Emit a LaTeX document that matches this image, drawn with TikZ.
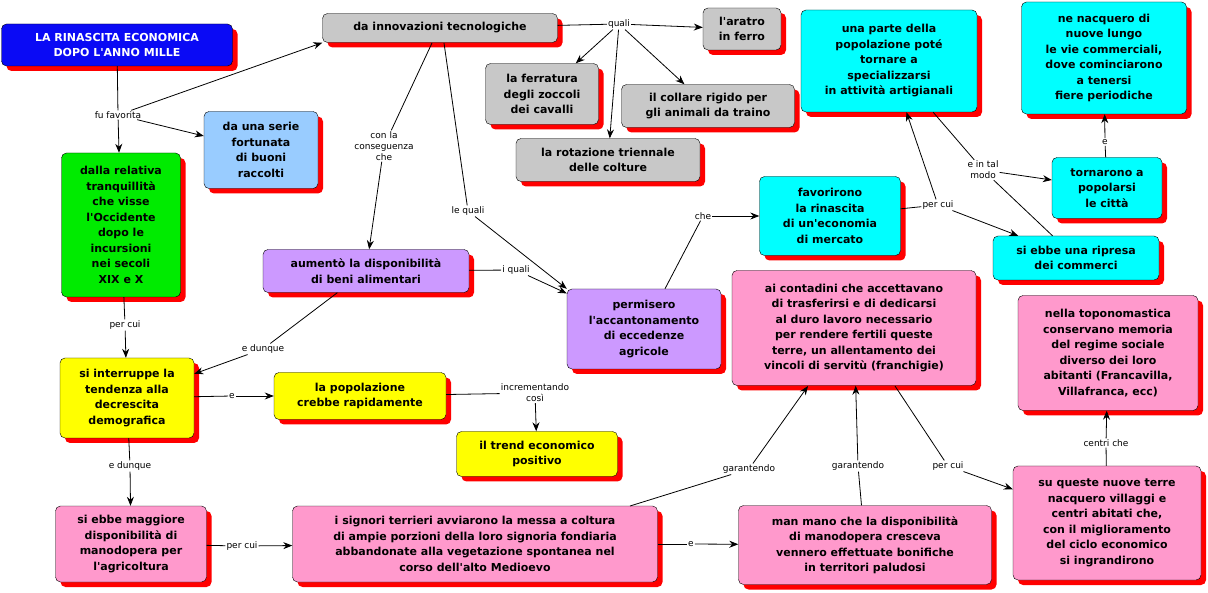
\documentclass[tikz,border=0pt]{standalone}
\usepackage{fontspec}
\setmainfont{DejaVu Sans}
\usetikzlibrary{shadows,arrows.meta}
\newcommand\qq{\textquotesingle}
\definecolor{cgray}{RGB}{200,200,200}
\definecolor{cgreen}{RGB}{0,235,0}
\definecolor{ccyan}{RGB}{0,255,255}
\definecolor{cyel}{RGB}{255,255,0}
\definecolor{cpink}{RGB}{255,153,204}
\definecolor{cpur}{RGB}{204,153,255}
\definecolor{clb}{RGB}{153,204,255}
\definecolor{cblue}{RGB}{10,10,245}
\tikzset{
 c/.style={draw=black,rounded corners=5pt,align=center,inner sep=2pt,
   font=\fontsize{11}{15.5}\selectfont\bfseries,
   drop shadow={shadow xshift=5pt,shadow yshift=-5pt,fill=red,opacity=1}},
 L/.style={fill=white,inner sep=1pt,align=center,font=\fontsize{9}{11}\selectfont},
 a/.style={-{Stealth[length=9pt,width=7pt]},line width=0.8pt},
 l/.style={line width=0.8pt},
}
\begin{document}
\begin{tikzpicture}[x=1pt,y=-1pt]
\useasboundingbox[fill=white] (0,0) rectangle (1208,593);
\node[c,fill=cblue,text=white,minimum width=231,minimum height=42] (t) at (117,45) {LA RINASCITA ECONOMICA\\DOPO L\qq ANNO MILLE};
\node[c,fill=cgray,minimum width=235,minimum height=29] (inn) at (440,28) {da innovazioni tecnologiche};
\node[c,fill=cgray,minimum width=78,minimum height=42] (ar) at (742,29) {l\qq aratro\\in ferro};
\node[c,fill=cgray,minimum width=113,minimum height=61] (fe) at (542,94) {la ferratura\\degli zoccoli\\dei cavalli};
\node[c,fill=cgray,minimum width=173,minimum height=43] (co) at (708,106) {il collare rigido per\\gli animali da traino};
\node[c,fill=cgray,minimum width=184,minimum height=43] (ro) at (608,160) {la rotazione triennale\\delle colture};
\node[c,fill=ccyan,minimum width=176,minimum height=102] (pa) at (889,61) {una parte della\\popolazione poté\\tornare a\\specializzarsi\\in attività artigianali};
\node[c,fill=ccyan,minimum width=165,minimum height=112] (ne) at (1104,58) {ne nacquero di\\nuove lungo\\le vie commerciali,\\dove cominciarono\\a tenersi\\fiere periodiche};
\node[c,fill=ccyan,minimum width=110,minimum height=61] (to) at (1107,188) {tornarono a\\popolarsi\\le città};
\node[c,fill=clb,minimum width=114,minimum height=77] (se) at (261,150) {da una serie\\fortunata\\di buoni\\raccolti};
\node[c,fill=cgreen,minimum width=119,minimum height=144] (dr) at (121,225) {dalla relativa\\tranquillità\\che visse\\l\qq Occidente\\dopo le\\incursioni\\nei secoli\\XIX e X};
\node[c,fill=ccyan,minimum width=141,minimum height=79] (fa) at (830,216) {favorirono\\la rinascita\\di un\qq economia\\di mercato};
\node[c,fill=ccyan,minimum width=166,minimum height=44] (ri) at (1076,258) {si ebbe una ripresa\\dei commerci};
\node[c,fill=cpur,minimum width=206,minimum height=43] (au) at (366,271) {aumentò la disponibilità\\di beni alimentari};
\node[c,fill=cpur,minimum width=154,minimum height=80] (pe) at (644,329) {permisero\\l\qq accantonamento\\di eccedenze\\agricole};
\node[c,fill=cpink,minimum width=244,minimum height=115] (ai) at (854,328) {ai contadini che accettavano\\di trasferirsi e di dedicarsi\\al duro lavoro necessario\\per rendere fertili queste\\terre, un allentamento dei\\vincoli di servitù (franchigie)};
\node[c,fill=cpink,minimum width=180,minimum height=115] (nt) at (1108,353) {nella toponomastica\\conservano memoria\\del regime sociale\\diverso dei loro\\abitanti (Francavilla,\\Villafranca, ecc)};
\node[c,fill=cyel,minimum width=134,minimum height=80] (si) at (127,398) {si interruppe la\\tendenza alla\\decrescita\\demografica};
\node[c,fill=cyel,minimum width=172,minimum height=47] (po) at (360,396) {la popolazione\\crebbe rapidamente};
\node[c,fill=cyel,minimum width=161,minimum height=45] (tr) at (537,454) {il trend economico\\positivo};
\node[c,fill=cpink,minimum width=151,minimum height=76] (ma) at (131,544) {si ebbe maggiore\\disponibilità di\\manodopera per\\l\qq agricoltura};
\node[c,fill=cpink,minimum width=365,minimum height=76] (sg) at (475,544) {i signori terrieri avviarono la messa a coltura\\di ampie porzioni della loro signoria fondiaria\\abbandonate alla vegetazione spontanea nel\\corso dell\qq alto Medioevo};
\node[c,fill=cpink,minimum width=253,minimum height=79] (mm) at (865,545) {man mano che la disponibilità\\di manodopera cresceva\\vennero effettuate bonifiche\\in territori paludosi};
\node[c,fill=cpink,minimum width=188,minimum height=114] (sq) at (1107,523) {su queste nuove terre\\nacquero villaggi e\\centri abitati che,\\con il miglioramento\\del ciclo economico\\si ingrandirono};
% labels
\node[L] (lq) at (619,24) {quali};
\node[L] (lf) at (118,115) {fu favorita};
\node[L] (lc) at (384,146) {con la\\conseguenza\\che};
\node[L] (llq) at (468,211) {le quali};
\node[L] (liq) at (516,270) {i quali};
\node[L] (lche) at (703,216) {che};
\node[L] (lpc1) at (938,205) {per cui};
\node[L] (ltm) at (983,170) {e in tal\\modo};
\node[L] (le1) at (1105,142) {e};
\node[L] (lpc2) at (125,325) {per cui};
\node[L] (led1) at (263,349) {e dunque};
\node[L] (le2) at (232,396) {e};
\node[L] (lic) at (535,393) {incrementando\\così};
\node[L] (led2) at (130,466) {e dunque};
\node[L] (lpc3) at (242,546) {per cui};
\node[L] (le3) at (691,544) {e};
\node[L] (lg1) at (749,469) {garantendo};
\node[L] (lg2) at (858,466) {garantendo};
\node[L] (lpc4) at (948,466) {per cui};
\node[L] (lcc) at (1106,443) {centri che};
\coordinate (i1) at (432,43);
\coordinate (i2) at (444,43);
\coordinate (s1) at (630,506);
\coordinate (a1) at (808,386);
\coordinate (a2) at (895,386);
% connectors
\draw[l] (inn) -- (lq);
\draw[a] (lq) -- (ar);
\draw[a] (lq) -- (fe);
\draw[a] (lq) -- (co);
\draw[a] (lq) -- (ro);
\draw[l] (t) -- (lf);
\draw[a] (lf) -- (inn.south west);
\draw[a] (lf) -- (se);
\draw[a] (lf) -- (dr);
\draw[l] (i1) -- (lc);
\draw[a] (lc) -- (au);
\draw[l] (i2) -- (llq);
\draw[a] (llq) -- (pe.north west);
\draw[l] (au) -- (liq);
\draw[a] (liq) -- (pe);
\draw[l] (pe) -- (lche);
\draw[a] (lche) -- (fa);
\draw[l] (fa) -- (lpc1);
\draw[a] (lpc1) -- (pa);
\draw[a] (lpc1) -- (ri);
\draw[l] (pa) -- (ltm);
\draw[l] (ri) -- (ltm);
\draw[a] (ltm) -- (to);
\draw[l] (to) -- (le1);
\draw[a] (le1) -- (ne);
\draw[l] (dr) -- (lpc2);
\draw[a] (lpc2) -- (si);
\draw[l] (au) -- (led1);
\draw[a] (led1) -- (si);
\draw[l] (si) -- (le2);
\draw[a] (le2) -- (po);
\draw[l] (po) -- (lic);
\draw[a] (lic) -- (tr);
\draw[l] (si) -- (led2);
\draw[a] (led2) -- (ma);
\draw[l] (ma) -- (lpc3);
\draw[a] (lpc3) -- (sg);
\draw[l] (sg) -- (le3);
\draw[a] (le3) -- (mm);
\draw[l] (s1) -- (lg1);
\draw[a] (lg1) -- (a1);
\draw[l] (mm) -- (lg2);
\draw[a] (lg2) -- (ai);
\draw[l] (a2) -- (lpc4);
\draw[a] (lpc4) -- (sq);
\draw[l] (sq) -- (lcc);
\draw[a] (lcc) -- (nt);
\end{tikzpicture}
\end{document}
